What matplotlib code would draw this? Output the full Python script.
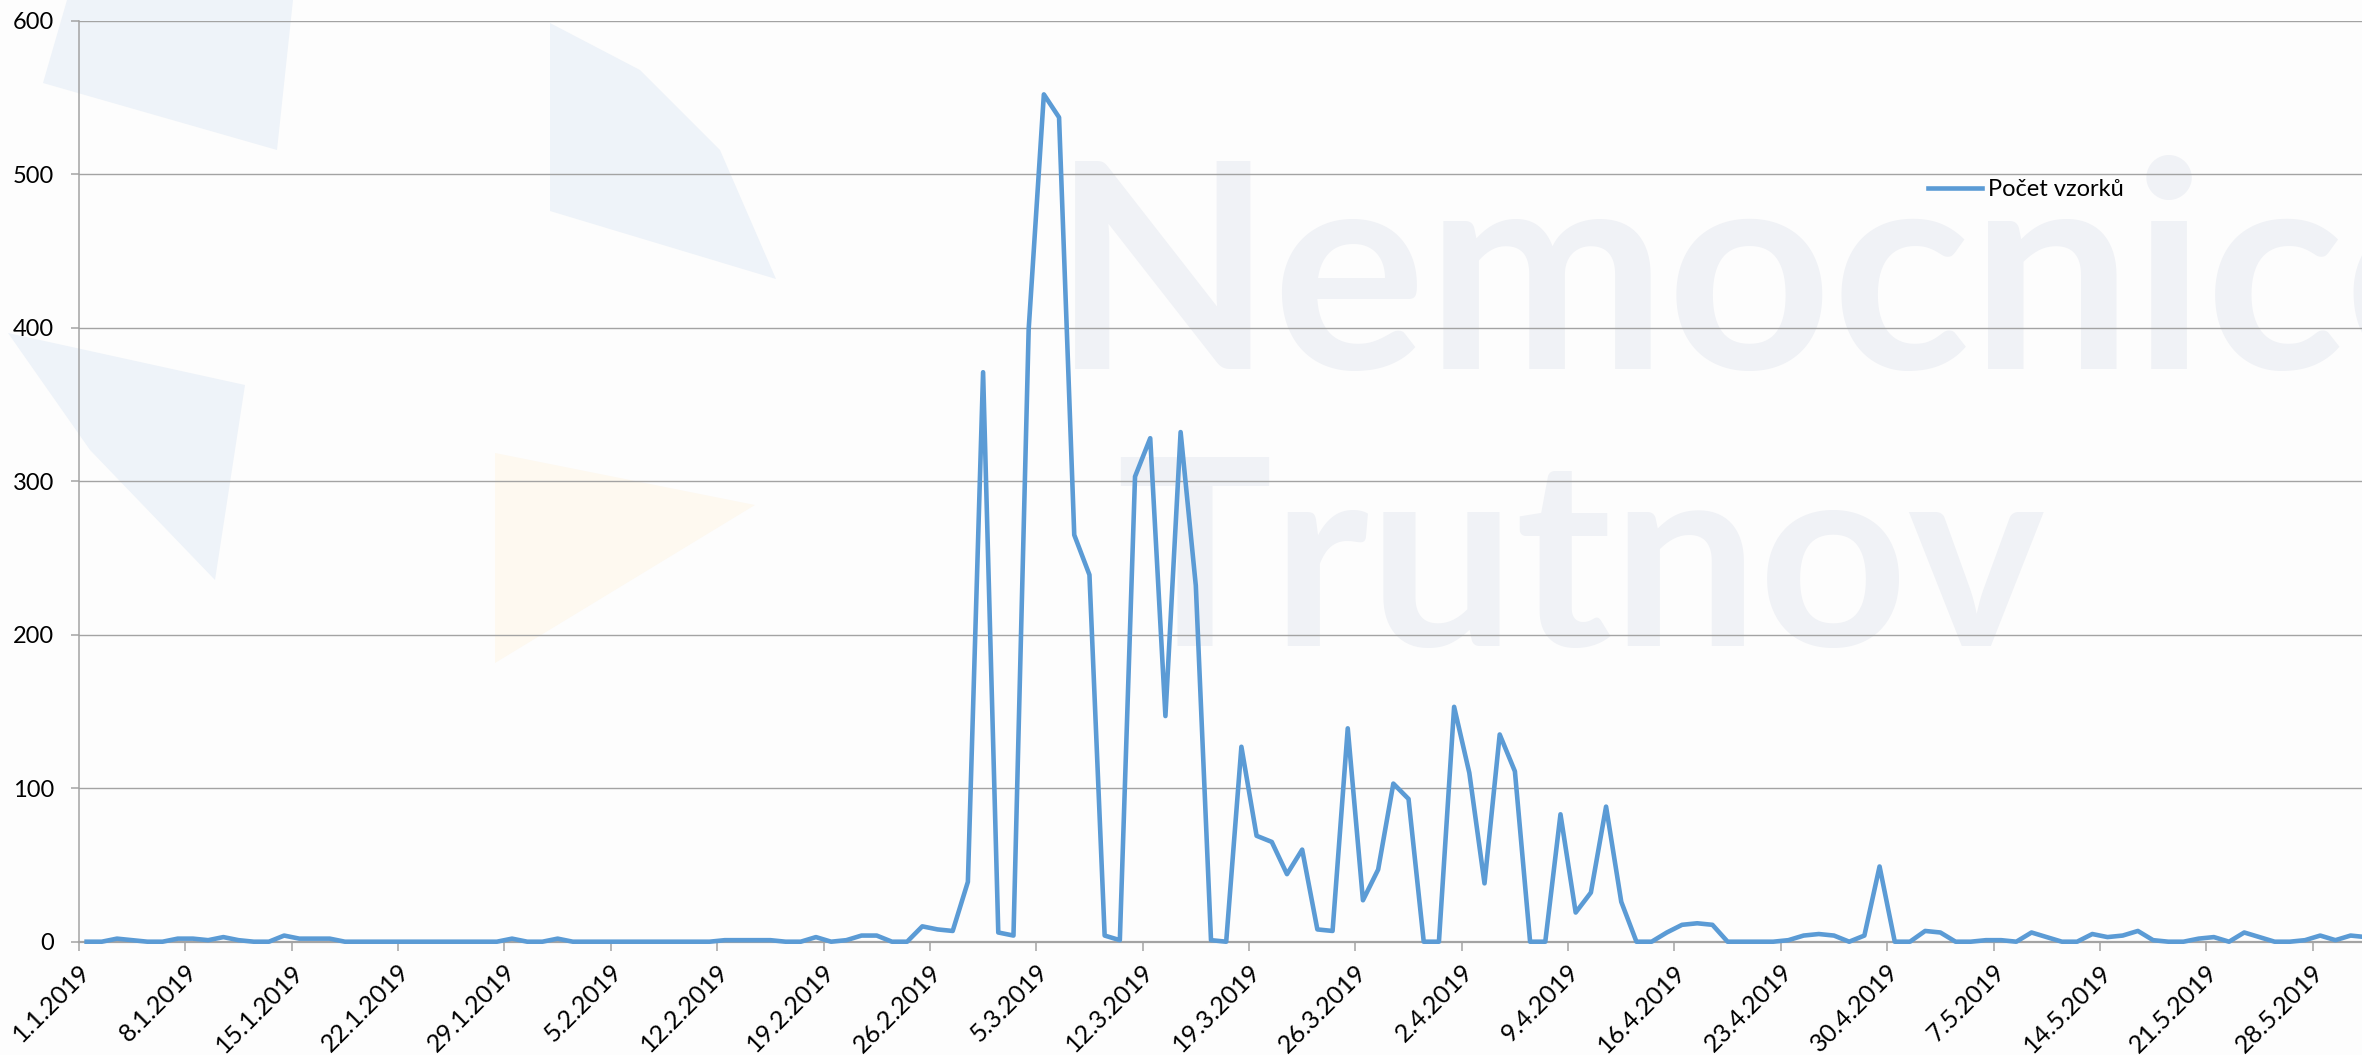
import numpy as np
import pandas as pd
import matplotlib
matplotlib.use("Agg")
import matplotlib.pyplot as plt
from matplotlib.patches import Polygon

# počet vzorků po dnech od 1.1.2019
pocet_vzorku = [
    0, 0, 2, 1, 0, 0, 2, 2, 1, 3, 1, 0, 0, 4, 2, 2, 2, 0,
    0, 0, 0, 0, 0, 0, 0, 0, 0, 0,
    2, 0, 0, 2,
    0, 0, 0, 0, 0, 0, 0, 0, 0, 0,
    1, 1, 1, 1, 0, 0, 3, 0, 1, 4, 4, 0, 0,
    10, 8, 7, 39, 371, 6, 4, 399, 552, 537, 265, 239, 4, 1,
    303, 328, 147, 332, 232, 1, 0,
    127, 69, 65, 44, 60, 8, 7, 139, 27, 47, 103, 93, 0, 0,
    153, 110, 38, 135, 111, 0, 0, 83, 19, 32, 88, 26, 0, 0,
    6, 11, 12, 11, 0, 0, 0, 0, 1, 4, 5, 4, 0, 4, 49, 0, 0,
    7, 6, 0, 0, 1, 1, 0, 6, 3, 0, 0, 5, 3, 4, 7, 1, 0, 0,
    2, 3, 0, 6, 3, 0, 0, 1, 4, 1, 4, 3,
]
dny = pd.date_range("2019-01-01", periods=len(pocet_vzorku), freq="D")
popisky = [f"{d.day}.{d.month}.{d.year}" for d in dny]
y_ticks = [0, 100, 200, 300, 400, 500, 600]

W, H = 2362, 1055
fig = plt.figure(figsize=(W / 100, H / 100), dpi=100, facecolor='#fdfdfd')
plt.rcParams['font.family'] = ['Lato', 'DejaVu Sans']

# vodoznak na pozadí (logo + nápis), hodně světlý
bg = fig.add_axes([0, 0, 1, 1], zorder=-1)
bg.set_xlim(0, W)
bg.set_ylim(H, 0)
bg.axis('off')
klinky = [
    ([(43, 83), (67, 0), (293, 0), (277, 150)], '#eef3f9'),
    ([(550, 23), (640, 70), (720, 150), (776, 279), (550, 211)], '#eef3f9'),
    ([(8, 333), (245, 385), (215, 580), (90, 450)], '#eef3f9'),
    ([(495, 453), (755, 505), (495, 663)], '#fef9f0'),
]
for pts, c in klinky:
    bg.add_patch(Polygon(pts, closed=True, facecolor=c, edgecolor='none'))
bg.text(1052, 369, "Nemocnice", fontsize=207, fontweight='bold', color='#f0f2f6', va='baseline', ha='left')
bg.text(1116, 646, "Trutnov", fontsize=187, fontweight='bold', color='#f0f2f6', va='baseline', ha='left')

ax = fig.add_axes([79 / W, (H - 941.7) / H, 1 - 79 / W, (941.7 - 20.7) / H])
ax.set_facecolor('none')

x = np.arange(len(pocet_vzorku))
ax.plot(x, pocet_vzorku, color='#5b9bd5', linewidth=3.3, label='Počet vzorků', zorder=3, clip_on=False)

ax.set_xlim(-0.5, 149.75)
ax.set_ylim(0, 600)
ax.set_yticks(y_ticks)
ax.yaxis.grid(True, color='#a3a3a3', linewidth=1.0)
ax.set_axisbelow(True)

ax.set_xticks(x[::7])
ax.set_xticklabels(popisky[::7], rotation=45, ha='right', va='center', rotation_mode='anchor')
ax.set_xticks(x[::7] - 0.5, minor=True)
ax.tick_params(axis='x', which='major', length=0, pad=19, labelsize=18)
ax.tick_params(axis='x', which='minor', length=6.5, width=1.1, color='#a3a3a3')
ax.tick_params(axis='y', length=6, width=1.1, color='#a3a3a3', pad=12, labelsize=17)

for s in ['top', 'right']:
    ax.spines[s].set_visible(False)
ax.spines['left'].set_color('#a3a3a3')
ax.spines['left'].set_linewidth(1.1)
ax.spines['bottom'].set_color('#a3a3a3')
ax.spines['bottom'].set_linewidth(1.6)

ax.legend(loc='center left', bbox_to_anchor=(1928 / W, 1 - 190 / H), bbox_transform=fig.transFigure,
          frameon=False, fontsize=17, handlelength=2.3, handletextpad=0.25, borderpad=0, borderaxespad=0)

fig.savefig('out.png', dpi=100, facecolor=fig.get_facecolor())
